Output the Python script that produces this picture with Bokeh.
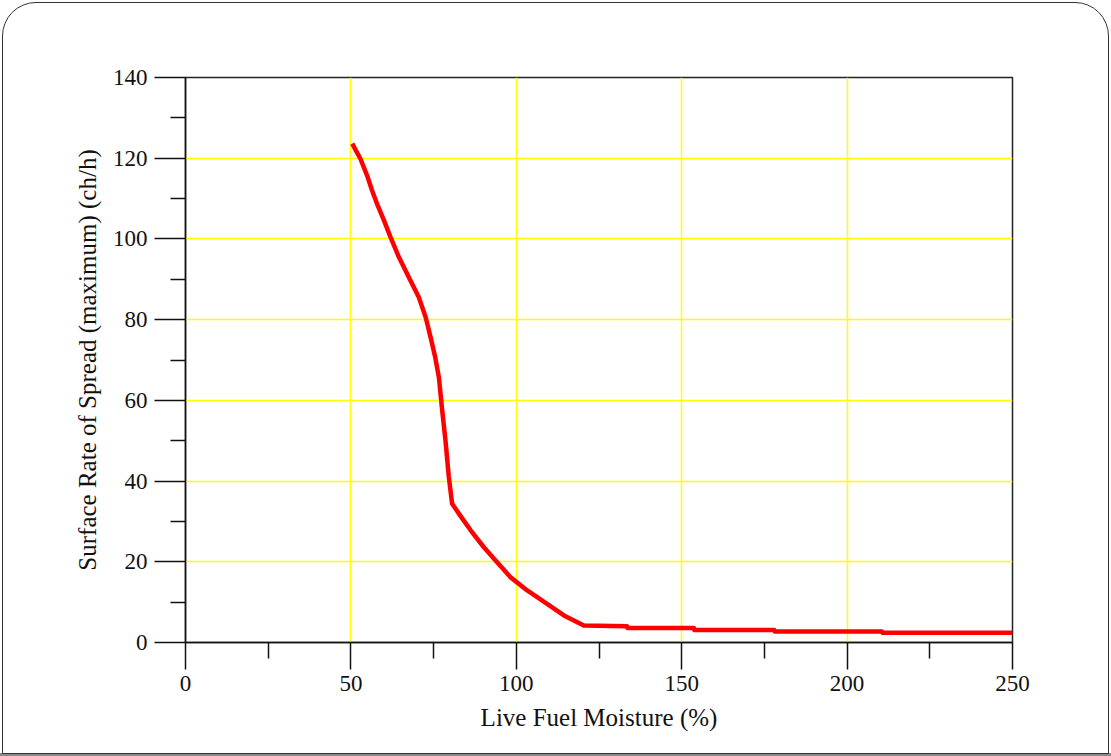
from bokeh.plotting import figure
from bokeh.models import FixedTicker, Range1d
from bokeh.embed import file_html
from bokeh.resources import INLINE

# Data
moisture = [50.4, 52.9, 54.9, 56.4, 57.9, 60.0, 62.0, 64.5, 67.5, 70.5, 72.6, 74.1,
            75.4, 76.6, 77.6, 78.6, 79.6, 80.6, 83.0, 86.2, 90.2, 94.2, 98.2,
            103.3, 109.3, 114.4, 120.4, 133.5, 133.6, 153.7, 153.8, 178.0, 178.1,
            210.6, 210.7, 250.0]
ros = [123.6, 119.8, 115.7, 112.0, 108.7, 104.6, 100.4, 95.5, 90.5, 85.6, 80.6, 75.6,
       71.0, 65.7, 57.5, 50.0, 41.0, 34.4, 31.5, 27.8, 23.6, 19.9, 16.2,
       12.9, 9.6, 6.7, 4.2, 4.0, 3.6, 3.6, 3.1, 3.1, 2.7,
       2.7, 2.4, 2.4]

x_ticks = [0, 50, 100, 150, 200, 250]
x_minor = [25, 75, 125, 175, 225]
y_ticks = [0, 20, 40, 60, 80, 100, 120, 140]
y_minor = [10, 30, 50, 70, 90, 110, 130]

FONT = "Liberation Serif"

p = figure(width=1111, height=756, output_backend="svg", toolbar_location=None,
           x_range=Range1d(0, 250), y_range=Range1d(0, 140),
           min_border_left=185, min_border_right=99, min_border_top=77,
           min_border_bottom=114)
p.background_fill_color = "white"
p.border_fill_alpha = 0
p.outline_line_color = "#222222"
p.outline_line_width = 1.5
p.styles = {
    "background-color": "white",
    "outline": "1.5px solid #333333",
    "outline-offset": "-3px",
    "border-radius": "36px 36px 0 0",
    "box-shadow": "inset 0 -3px 0 0 #8a8a8a",
}

for ax, ticks, minor in ((p.xaxis, x_ticks, x_minor), (p.yaxis, y_ticks, y_minor)):
    ax.ticker = FixedTicker(ticks=ticks, minor_ticks=minor)
    ax.axis_line_color = "#111111"
    ax.axis_line_width = 1.5
    ax.major_tick_line_color = "#111111"
    ax.major_tick_line_width = 1.5
    ax.minor_tick_line_color = "#111111"
    ax.minor_tick_line_width = 1.5
    ax.major_tick_in = 0
    ax.minor_tick_in = 0
    ax.major_label_text_font = FONT
    ax.major_label_text_font_size = "23px"
    ax.major_label_text_color = "#111111"
    ax.axis_label_text_font = FONT
    ax.axis_label_text_font_size = "25px"
    ax.axis_label_text_font_style = "normal"
    ax.axis_label_text_color = "#111111"

p.xaxis.major_tick_out = 27
p.xaxis.minor_tick_out = 16
p.yaxis.major_tick_out = 31
p.yaxis.minor_tick_out = 15
p.xaxis.major_label_standoff = 6
p.yaxis.major_label_standoff = 7
p.xaxis.axis_label = "Live Fuel Moisture (%)"
p.yaxis.axis_label = "Surface Rate of Spread (maximum) (ch/h)"
p.xaxis.axis_label_standoff = 10
p.yaxis.axis_label_standoff = 9

p.xgrid.ticker = FixedTicker(ticks=x_ticks)
p.ygrid.ticker = FixedTicker(ticks=y_ticks)
p.xgrid.grid_line_color = "#FFFF00"
p.ygrid.grid_line_color = "#FFFF00"
p.xgrid.grid_line_width = 1.5
p.ygrid.grid_line_width = 1.5

p.line(moisture, ros, line_color="#FF0000", line_width=4.5, line_join="round")

open("out.html", "w").write(file_html(p, INLINE))
